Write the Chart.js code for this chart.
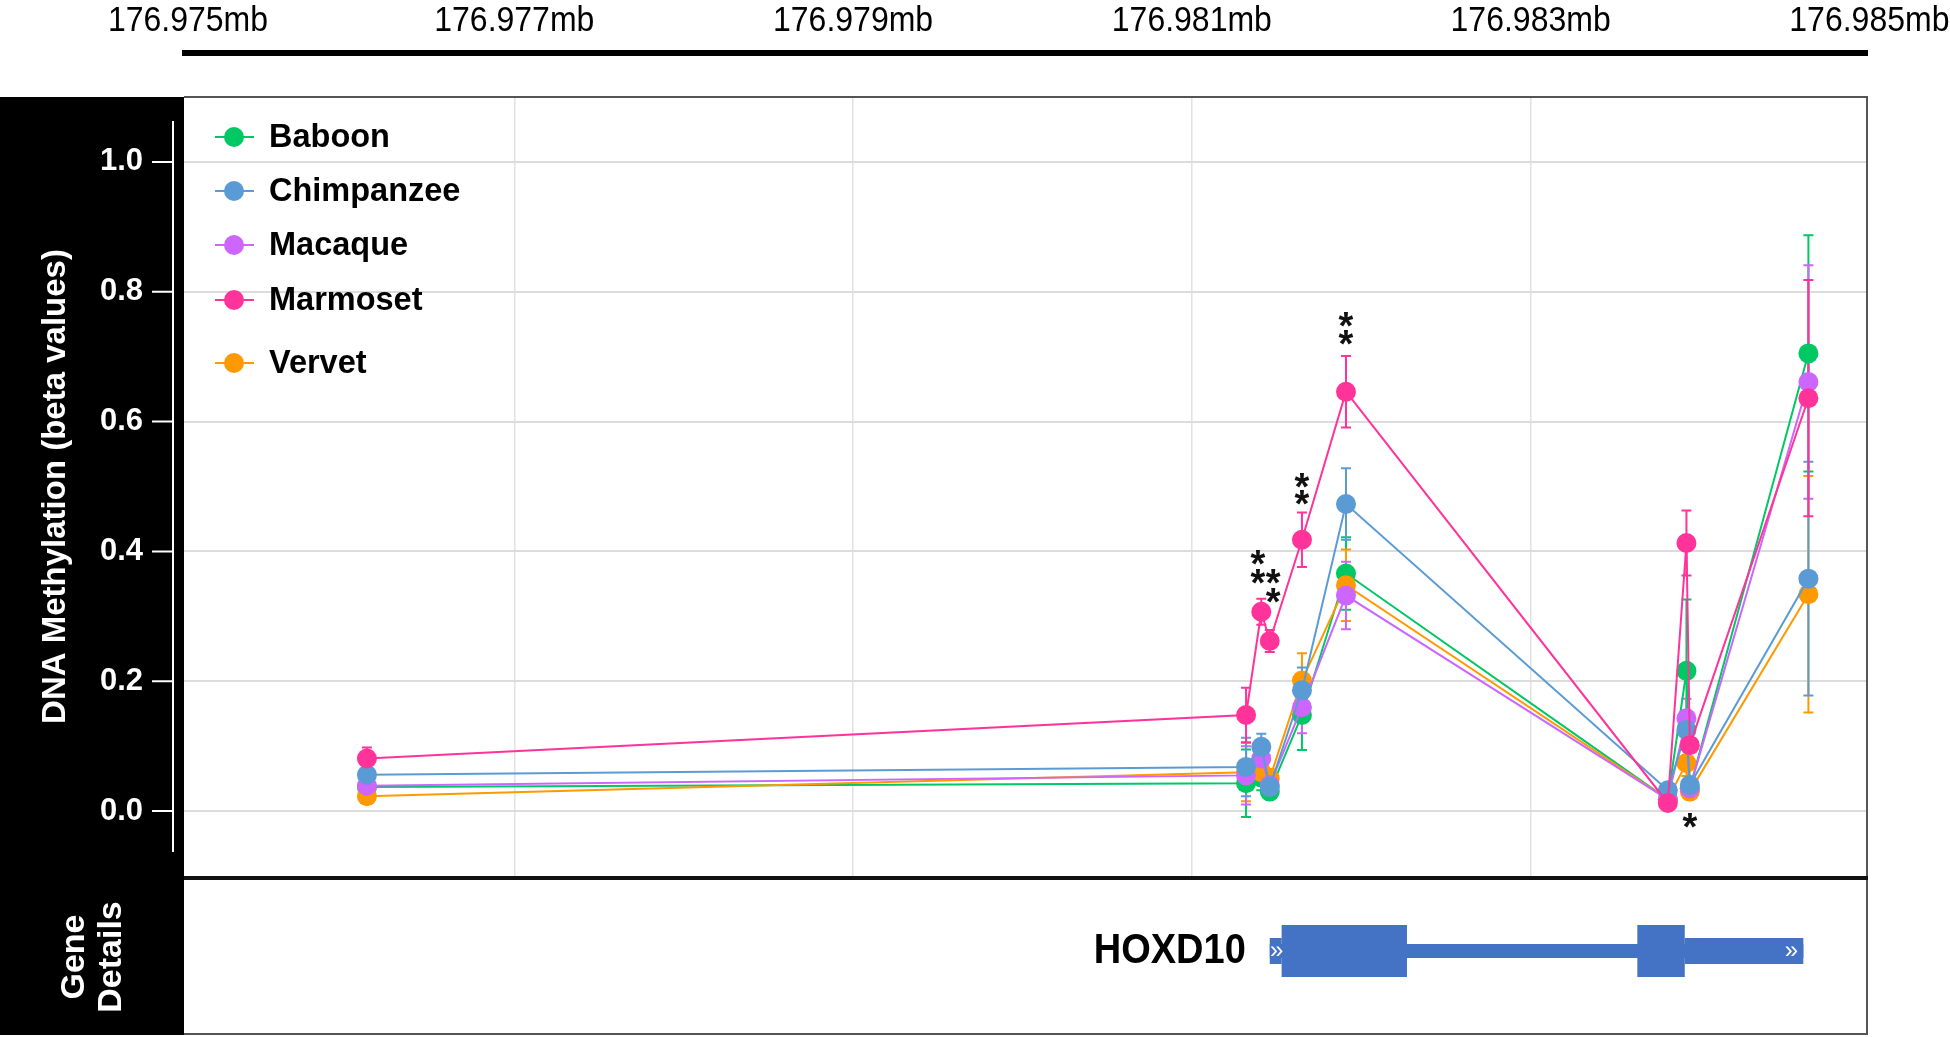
<!DOCTYPE html>
<html>
<head>
<meta charset="utf-8">
<script src="https://cdn.jsdelivr.net/npm/chart.js@4.4.1/dist/chart.umd.min.js"></script>
<style>
  body { margin: 0; background: #fff; }
  #wrap { width: 1950px; height: 1037px; }
</style>
</head>
<body>
<div id="wrap"><canvas id="myChart"></canvas></div>
<script>
// CpG positions along the locus (mb)
const positions = [176.97613, 176.98132, 176.98141, 176.98146, 176.98165, 176.98191, 176.98381, 176.98392, 176.98394, 176.98464];

const species = ["Baboon", "Chimpanzee", "Macaque", "Marmoset", "Vervet"];
const colors = ["#00c864", "#5b9bd5", "#cc66ff", "#ff3399", "#ff9900"];

// mean beta values
const baboon   = [0.037, 0.043, 0.052, 0.030, 0.148, 0.366, 0.018, 0.216, 0.035, 0.705];
const chimp    = [0.056, 0.068, 0.099, 0.037, 0.186, 0.473, 0.032, 0.125, 0.040, 0.358];
const macaque  = [0.039, 0.055, 0.081, 0.040, 0.160, 0.332, 0.018, 0.143, 0.035, 0.661];
const marmoset = [0.081, 0.148, 0.307, 0.262, 0.418, 0.646, 0.0125, 0.413, 0.1015, 0.636];
const vervet   = [0.023, 0.060, 0.060, 0.050, 0.201, 0.348, 0.018, 0.074, 0.030, 0.334];

// error bar half widths
const baboonErr   = [0.008, 0.052, 0.02, 0.01, 0.054, 0.056, 0.008, 0.11, 0.01, 0.182];
const chimpErr    = [0.008, 0.045, 0.02, 0.01, 0.035, 0.055, 0.008, 0.03, 0.01, 0.18];
const macaqueErr  = [0.008, 0.045, 0.02, 0.01, 0.04, 0.052, 0.008, 0.03, 0.01, 0.18];
const marmosetErr = [0.017, 0.042, 0.02, 0.017, 0.042, 0.055, 0.008, 0.05, 0.01, 0.182];
const vervetErr   = [0.008, 0.045, 0.02, 0.015, 0.042, 0.055, 0.008, 0.02, 0.01, 0.182];

const yTicks = [0, 0.2, 0.4, 0.6, 0.8, 1.0];
const xGrid = [176.977, 176.979, 176.981, 176.983];
const topTicks = [176.975, 176.977, 176.979, 176.981, 176.983, 176.985];

// significance stars
const sigX = [176.98139, 176.98139, 176.98148, 176.98148, 176.98165, 176.98165, 176.98191, 176.98191, 176.98394];
const sigY = [0.391, 0.3615, 0.3615, 0.332, 0.509, 0.483, 0.758, 0.729, -0.015];
const sigLabels = ["*", "*", "*", "*", "*", "*", "*", "*", "*"];

// gene model
const geneName = "HOXD10";
const geneStart = 176.98146;
const geneEnd = 176.98461;
const utrStarts = [176.98146, 176.98391];
const utrEnds = [176.98153, 176.98461];
const exonStarts = [176.98153, 176.98363];
const exonEnds = [176.98227, 176.98391];

const FONT = "'Liberation Sans', Arial, sans-serif";

function makeData(vals){
    return positions.map((x, i) => ({x: x, y: vals[i]}));
}

const seriesVals = [baboon, chimp, macaque, marmoset, vervet];
const seriesErr = [baboonErr, chimpErr, macaqueErr, marmosetErr, vervetErr];
const drawOrder = [4, 1, 2, 0, 3];

const datasets = species.map((name, i) => ({
    label: name,
    data: makeData(seriesVals[i]),
    errors: seriesErr[i],
    borderColor: colors[i],
    backgroundColor: colors[i],
    pointBackgroundColor: colors[i],
    pointBorderWidth: 0,
    pointRadius: 10,
    borderWidth: 2,
    order: drawOrder[i]
}));

const panels = {
    id: "panels",
    beforeDraw(chart){
        const ctx = chart.ctx;
        const a = chart.chartArea;
        ctx.save();
        ctx.fillStyle = "#fff";
        ctx.fillRect(0, 0, chart.width, chart.height);
        ctx.fillStyle = "#000";
        ctx.fillRect(0, a.top, a.left, 1035 - a.top);
        ctx.restore();
    },
    beforeDatasetsDraw(chart){
        const ctx = chart.ctx;
        const xs = chart.scales.x, ys = chart.scales.y;
        ctx.save();
        const metas = chart.getSortedVisibleDatasetMetas();
        for (let m = metas.length - 1; m >= 0; m--){
            const ds = chart.data.datasets[metas[m].index];
            ctx.strokeStyle = ds.borderColor;
            ctx.lineWidth = 2;
            ds.data.forEach((p, j) => {
                const e = ds.errors[j];
                const px = xs.getPixelForValue(p.x);
                const t = ys.getPixelForValue(p.y + e);
                const b = ys.getPixelForValue(p.y - e);
                ctx.beginPath();
                ctx.moveTo(px, t); ctx.lineTo(px, b);
                ctx.moveTo(px - 5, t); ctx.lineTo(px + 5, t);
                ctx.moveTo(px - 5, b); ctx.lineTo(px + 5, b);
                ctx.stroke();
            });
        }
        ctx.restore();
    },
    afterDraw(chart){
        const ctx = chart.ctx;
        const a = chart.chartArea;
        const xs = chart.scales.x, ys = chart.scales.y;
        ctx.save();

        // frame
        ctx.strokeStyle = "#555";
        ctx.lineWidth = 2;
        ctx.beginPath();
        ctx.moveTo(a.left, a.top);
        ctx.lineTo(a.right + 1, a.top);
        ctx.lineTo(a.right + 1, 1034);
        ctx.lineTo(a.left, 1034);
        ctx.stroke();
        ctx.strokeStyle = "#111";
        ctx.lineWidth = 4;
        ctx.beginPath();
        ctx.moveTo(a.left, a.bottom + 2);
        ctx.lineTo(a.right + 2, a.bottom + 2);
        ctx.stroke();

        // y axis line and ticks
        ctx.strokeStyle = "#fff";
        ctx.lineWidth = 2;
        const axX = a.left - 11;
        ctx.beginPath();
        ctx.moveTo(axX, a.top + 24);
        ctx.lineTo(axX, a.bottom - 24);
        yTicks.forEach(v => {
            const py = ys.getPixelForValue(v);
            ctx.moveTo(axX - 21, py);
            ctx.lineTo(axX, py);
        });
        ctx.stroke();

        // top coordinate axis
        ctx.fillStyle = "#000";
        ctx.fillRect(a.left - 2, 50, a.right - a.left + 4, 6);
        ctx.font = "32px " + FONT;
        ctx.textAlign = "center";
        ctx.textBaseline = "alphabetic";
        topTicks.forEach(v => {
            const px = Math.max(xs.getPixelForValue(v), a.left + 4);
            ctx.save();
            ctx.translate(px, 31);
            ctx.scale(1, 1.1);
            ctx.fillText(v.toFixed(3) + "mb", 0, 0);
            ctx.restore();
        });

        // legend
        const legY = [40, 94, 148, 203, 266];
        ctx.font = "bold 32.5px " + FONT;
        ctx.textAlign = "left";
        ctx.textBaseline = "middle";
        species.forEach((name, i) => {
            const y = a.top + legY[i];
            ctx.strokeStyle = colors[i];
            ctx.lineWidth = 2;
            ctx.beginPath();
            ctx.moveTo(a.left + 31, y);
            ctx.lineTo(a.left + 70, y);
            ctx.stroke();
            ctx.fillStyle = colors[i];
            ctx.beginPath();
            ctx.arc(a.left + 50, y, 10, 0, Math.PI * 2);
            ctx.fill();
            ctx.fillStyle = "#000";
            ctx.fillText(name, a.left + 85, y + 1);
        });

        // significance stars
        ctx.font = "bold 38px " + FONT;
        ctx.textAlign = "center";
        ctx.textBaseline = "alphabetic";
        ctx.fillStyle = "#111";
        const mt = ctx.measureText("*");
        const off = (mt.actualBoundingBoxAscent - mt.actualBoundingBoxDescent) / 2;
        sigX.forEach((x, i) => {
            ctx.fillText(sigLabels[i], xs.getPixelForValue(x), ys.getPixelForValue(sigY[i]) + off);
        });

        // gene details panel
        const gy = 951;
        ctx.fillStyle = "#4472c4";
        const gs = xs.getPixelForValue(geneStart), ge = xs.getPixelForValue(geneEnd);
        ctx.fillRect(gs, gy - 7, ge - gs, 14);
        utrStarts.forEach((s, i) => {
            const p1 = xs.getPixelForValue(s), p2 = xs.getPixelForValue(utrEnds[i]);
            ctx.fillRect(p1, gy - 13, p2 - p1, 26);
        });
        exonStarts.forEach((s, i) => {
            const p1 = xs.getPixelForValue(s), p2 = xs.getPixelForValue(exonEnds[i]);
            ctx.fillRect(p1, gy - 26, p2 - p1, 52);
        });
        ctx.fillStyle = "#fff";
        ctx.font = "24px " + FONT;
        ctx.textAlign = "center";
        ctx.textBaseline = "middle";
        ctx.fillText("\u00bb", gs + 7, gy);
        ctx.fillText("\u00bb", ge - 12, gy);

        ctx.fillStyle = "#000";
        ctx.font = "bold 38px " + FONT;
        ctx.textAlign = "right";
        ctx.save();
        ctx.translate(gs - 24, gy);
        ctx.scale(1, 1.1);
        ctx.fillText(geneName, 0, 0);
        ctx.restore();

        ctx.fillStyle = "#fff";
        ctx.font = "bold 34px " + FONT;
        ctx.textAlign = "center";
        ctx.save();
        ctx.translate(93, 957);
        ctx.rotate(-Math.PI / 2);
        ctx.fillText("Gene", 0, -18);
        ctx.fillText("Details", 0, 19);
        ctx.restore();

        ctx.restore();
    }
};

const ctx = document.getElementById("myChart").getContext("2d");
const myChart = new Chart(ctx, {
    type: "line",
    data: { datasets: datasets },
    plugins: [panels],
    options: {
        responsive: true,
        maintainAspectRatio: false,
        animation: false,
        layout: { padding: { top: 97, right: 84, bottom: 161, left: 0 } },
        plugins: {
            legend: { display: false },
            tooltip: { enabled: false }
        },
        scales: {
            x: {
                type: "linear",
                min: 176.97505,
                max: 176.98498,
                afterBuildTicks: s => { s.ticks = xGrid.map(v => ({value: v})); },
                afterFit: s => { s.height = 0; },
                ticks: { display: false },
                grid: { color: "#e2e2e2", lineWidth: 1.5, drawTicks: false },
                border: { display: false }
            },
            y: {
                min: -0.1,
                max: 1.1,
                afterBuildTicks: s => { s.ticks = yTicks.map(v => ({value: v})); },
                afterFit: s => { s.width = 184; },
                ticks: {
                    color: "#fff",
                    padding: 41,
                    font: { family: FONT, size: 31, weight: "bold" },
                    callback: v => v.toFixed(1)
                },
                grid: { color: "#dcdcdc", lineWidth: 2, drawTicks: false },
                border: { display: false },
                title: {
                    display: true,
                    text: "DNA Methylation (beta values)",
                    color: "#fff",
                    font: { family: FONT, size: 33, weight: "bold" },
                    padding: { top: 36, bottom: 0 }
                }
            }
        }
    }
});
</script>
</body>
</html>
